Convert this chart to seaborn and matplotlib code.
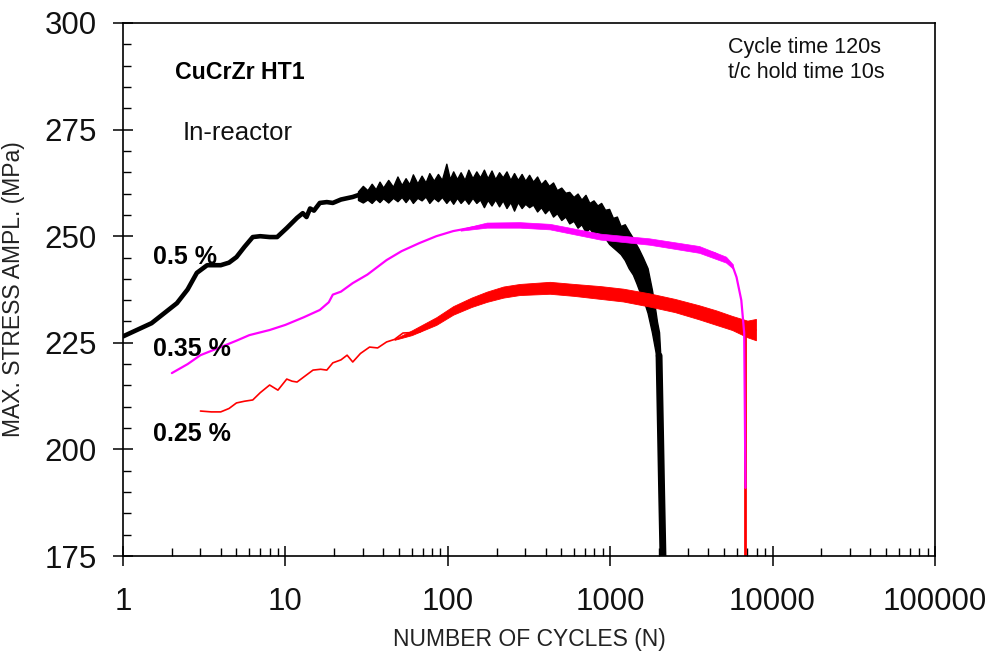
import numpy as np
import pandas as pd
import matplotlib
matplotlib.use("Agg")
import matplotlib.pyplot as plt
import seaborn as sns
from matplotlib.ticker import FixedLocator, LogLocator, NullFormatter, FixedFormatter

# ---------------- data ----------------
# 0.5 % strain (black): smooth early part
blk_n = [1, 1.5, 2.15, 2.5, 2.85, 3.3, 4.0, 4.5, 5.0, 5.6, 6.3, 7.0, 8.0, 8.9,
         10.2, 11.8, 12.8, 13.5, 14.2, 15.0, 16.3, 18, 19.6, 22, 26, 30]
blk_s = [226.5, 229.6, 234.3, 237.5, 241.4, 243.2, 243.2, 243.8, 245.1, 247.5,
         249.8, 250.0, 249.8, 249.8, 251.9, 254.3, 255.4, 254.5, 256.5, 256.0,
         257.8, 258.0, 257.8, 258.6, 259.2, 260.0]
# black noisy band (cycles, lower edge, upper edge)
blk_band_n = [28, 30, 32, 34, 36, 38, 40, 43, 46, 49, 52, 55, 58, 61, 65, 69, 73,
              77, 82, 87, 92, 98, 103, 108, 114, 120, 127, 134, 142, 150, 158,
              167, 176, 186, 196, 207, 218, 230, 243, 256, 270, 285, 300, 317,
              335, 355, 375, 397, 420, 445, 470, 500, 530, 560, 595, 630, 665,
              705, 745, 790, 835, 880, 930, 985, 1040, 1100, 1160, 1230, 1300,
              1380, 1450, 1500, 1590, 1700, 1807, 1900, 1942, 2000, 2030]
blk_band_lo = [258.5, 257.9, 258.6, 257.8, 258.8, 258.0, 258.9, 257.9, 259.0,
               258.2, 259.2, 258.0, 259.1, 257.8, 259.0, 258.4, 259.3, 257.8,
               259.0, 258.2, 259.2, 257.8, 258.8, 257.6, 259.0, 257.8, 258.8,
               257.6, 259.0, 257.8, 258.6, 256.8, 258.5, 257.2, 258.6, 257.0,
               258.4, 256.6, 258.0, 256.0, 258.0, 256.6, 257.6, 256.8, 257.4,
               255.8, 256.8, 255.4, 256.4, 254.6, 255.4, 253.8, 254.6, 253.0,
               253.6, 252.0, 252.8, 251.0, 251.8, 250.6, 251.0, 249.8, 249.6,
               248.2, 247.4, 246.6, 245.8, 244.4, 242.5, 241.0, 239.0, 237.5,
               235.5, 232.0, 227.5, 223.0, 220.5, 217.0, 214.0]
blk_band_hi = [260.5, 261.8, 260.8, 262.3, 261.0, 262.8, 261.4, 263.2, 261.6,
               264.0, 262.0, 263.6, 262.2, 264.5, 262.4, 264.2, 262.6, 264.8,
               263.0, 264.6, 263.2, 267.0, 263.4, 265.2, 263.4, 265.0, 263.2,
               265.6, 263.6, 265.2, 263.8, 265.6, 263.6, 265.4, 263.4, 265.0,
               263.8, 265.2, 263.2, 264.8, 263.2, 264.6, 263.0, 264.4, 262.8,
               264.0, 262.2, 263.2, 261.8, 262.6, 260.8, 261.4, 260.2, 260.4,
               259.2, 260.0, 258.6, 259.7, 257.8, 258.4, 257.2, 257.8, 256.2,
               256.4, 254.3, 254.6, 252.4, 252.8, 251.2, 249.6, 248.0, 247.0,
               245.0, 242.5, 237.5, 232.5, 230.0, 227.5, 223.0]
# black final drop to failure
blk_drop_n = [2000, 2040, 2075, 2114]
blk_drop_s = [222.0, 205.0, 190.0, 175.0]

# 0.35 % strain (magenta)
mag_n = [2.0, 2.5, 3.0, 4.0, 5.0, 6.0, 8.0, 10, 13, 16.3, 18.5, 19.6, 22, 26, 32,
         42, 52, 67, 85, 108, 140, 174, 210, 277, 425, 600, 870, 1200, 1745,
         2500, 3530, 4400, 5170, 5700, 6000, 6420, 6690, 6780, 6810]
mag_s = [217.9, 220.0, 222.1, 224.0, 225.5, 226.8, 228.0, 229.2, 231.0, 232.7,
         234.5, 236.3, 237.0, 239.0, 241.0, 244.4, 246.5, 248.4, 250.0, 251.2,
         252.0, 252.6, 252.8, 252.6, 252.2, 251.2, 249.8, 249.5, 248.6, 247.8,
         246.8, 246.0, 244.4, 242.8, 240.4, 235.0, 227.3, 200.0, 191.0]
mag_band_n = [120, 174, 277, 425, 870, 1745, 3530, 5170, 5700]
mag_band_lo = [251.3, 252.0, 252.0, 251.6, 249.2, 248.0, 246.1, 243.8, 242.4]
mag_band_hi = [251.7, 253.2, 253.3, 252.9, 250.6, 249.5, 247.7, 245.2, 243.4]

# 0.25 % strain (red)
red_n = [3.0, 3.5, 4.0, 4.5, 5.0, 5.6, 6.3, 7.0, 8.0, 9.0, 10.2, 11.0, 11.8, 13,
         14.8, 16.5, 18, 19.6, 22, 24, 26, 29, 33, 37, 42, 47, 53, 67, 85, 108,
         140, 174, 277, 425, 870, 1745, 3530, 5640, 7900]
red_s = [209.0, 208.8, 208.8, 209.6, 210.9, 211.3, 211.6, 213.3, 215.1, 213.9,
         216.5, 216.0, 215.8, 217.0, 218.6, 218.8, 218.6, 220.3, 221.0, 222.1,
         220.5, 222.5, 224.0, 223.8, 225.2, 225.8, 227.3, 227.5, 230.0, 232.7,
         234.5, 235.7, 237.4, 237.9, 236.7, 235.0, 232.0, 229.6, 228.0]
red_band_n = [47, 60, 85, 108, 140, 174, 220, 277, 425, 600, 870, 1200, 1745,
              2500, 3530, 4500, 5640, 7000, 7900]
red_band_lo = [225.7, 226.8, 229.2, 231.6, 233.4, 234.6, 235.6, 236.2, 236.5,
               236.0, 235.3, 234.7, 233.5, 232.2, 230.5, 229.2, 228.0, 226.3, 225.6]
red_band_hi = [225.9, 227.9, 231.0, 233.6, 235.6, 237.0, 238.2, 238.8, 239.3,
               238.8, 238.3, 237.7, 236.6, 235.3, 233.8, 232.6, 231.3, 230.2, 230.6]
red_drop_n = [6800, 6800]
red_drop_s = [229.0, 175.0]

y_ticks = [175, 200, 225, 250, 275, 300]
x_ticks = [1, 10, 100, 1000, 10000, 100000]
x_tick_labels = ["1", "10", "100", "1000", "10000", "100000"]
strain_labels = ["0.5 %", "0.35 %", "0.25 %"]

# ---------------- plotting ----------------
sns.set_style("white")
plt.rcParams["font.family"] = ["Liberation Sans", "DejaVu Sans"]
plt.rcParams["text.color"] = "black"

fig = plt.figure(figsize=(9.94, 6.53), dpi=100)
ax = fig.add_axes([0.1237, 0.1485, 0.8169, 0.8163])

BLACK, RED, MAG = "#000000", "#ff0000", "#ff00ff"

# black
sns.lineplot(x=blk_n, y=blk_s, ax=ax, color=BLACK, lw=3.3, sort=False, estimator=None)
ax.fill_between(blk_band_n, blk_band_lo, blk_band_hi, color=BLACK, lw=1.0, edgecolor=BLACK)
sns.lineplot(x=blk_drop_n, y=blk_drop_s, ax=ax, color=BLACK, lw=5.0, sort=False, estimator=None)

# red
sns.lineplot(x=red_n, y=red_s, ax=ax, color=RED, lw=1.2, sort=False, estimator=None)
ax.fill_between(red_band_n, red_band_lo, red_band_hi, color=RED, lw=0.6, edgecolor=RED)
sns.lineplot(x=red_drop_n, y=red_drop_s, ax=ax, color=RED, lw=2.0, sort=False, estimator=None)

# magenta
sns.lineplot(x=mag_n, y=mag_s, ax=ax, color=MAG, lw=1.6, sort=False, estimator=None)
ax.fill_between(mag_band_n, mag_band_lo, mag_band_hi, color=MAG, lw=0.5, edgecolor=MAG)

ax.set_xscale("log")
ax.set_xlim(1, 100000)
ax.set_ylim(175, 300)

for sp in ax.spines.values():
    sp.set_color("black")
    sp.set_linewidth(1.2)
    sp.set_visible(True)

ax.xaxis.set_major_locator(FixedLocator(x_ticks))
ax.xaxis.set_major_formatter(FixedFormatter(x_tick_labels))
ax.xaxis.set_minor_locator(LogLocator(base=10, subs=np.arange(2, 10), numticks=20))
ax.xaxis.set_minor_formatter(NullFormatter())
ax.yaxis.set_major_locator(FixedLocator(y_ticks))
ax.yaxis.set_minor_locator(FixedLocator(list(range(175, 301, 5))))
ax.tick_params(axis="both", which="major", direction="inout", length=14, width=1.1,
               color="black", labelsize=22.5, labelcolor="#111111", bottom=True, left=True)
ax.tick_params(axis="both", which="minor", direction="in", length=6, width=1.0,
               color="black", bottom=True, left=True)
ax.tick_params(axis="y", which="major", pad=12)
ax.tick_params(axis="x", which="major", pad=15)

ax.set_xlabel("NUMBER OF CYCLES (N)", fontsize=16.5, color="#222222", labelpad=8)
ax.set_ylabel("MAX. STRESS AMPL. (MPa)", fontsize=16.5, color="#222222", labelpad=14)

# annotations
ax.text(2.09, 288.5, "CuCrZr HT1", fontsize=16.7, fontweight="bold", va="center", ha="left", color="black")
ax.text(2.34, 274.2, "In-reactor", fontsize=18.5, va="center", ha="left", color="#111111")
ax.text(1.53, 245.1, strain_labels[0], fontsize=18, fontweight="bold", va="center", ha="left", color="black")
ax.text(1.53, 223.6, strain_labels[1], fontsize=18, fontweight="bold", va="center", ha="left", color="black")
ax.text(1.53, 203.6, strain_labels[2], fontsize=18, fontweight="bold", va="center", ha="left", color="black")
ax.text(5300, 291.3, "Cycle time 120s\nt/c hold time 10s", fontsize=15.5,
        va="center", ha="left", linespacing=1.3, color="#111111")

fig.savefig("out.png", dpi=100)
